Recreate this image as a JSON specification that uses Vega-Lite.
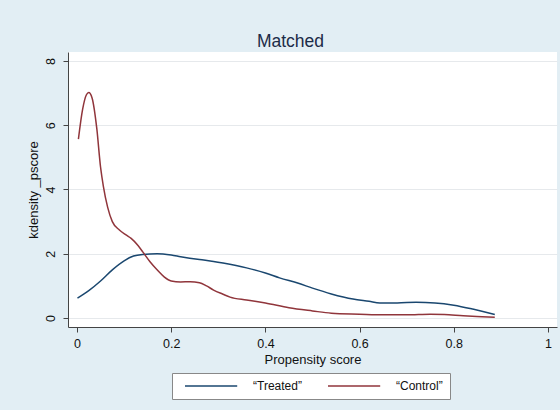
{
  "$schema": "https://vega.github.io/schema/vega-lite/v6.json",
  "autosize": {"type": "none"},
  "padding": {"left": 68, "top": 52, "right": 3, "bottom": 83},
  "width": 489,
  "height": 275,
  "background": "#e2eef4",
  "title": {"text": "Matched", "fontSize": 17.5, "font": "Liberation Sans", "fontWeight": "normal", "color": "#1c2b48", "anchor": "middle", "dx": -22, "offset": 2},
  "config": {
    "view": {"fill": "white", "stroke": null},
    "font": "Liberation Sans",
    "axis": {"domainColor": "#444444", "tickColor": "#444444", "labelColor": "#111111", "titleColor": "#111111", "labelFontSize": 12.5, "titleFontSize": 13, "titleFontWeight": "normal", "tickSize": 5, "labelFont": "Liberation Sans", "titleFont": "Liberation Sans"}
  },
  "data": {"values": [
    {"g": "“Treated”", "x": 0.001, "y": 0.62},
    {"g": "“Treated”", "x": 0.025, "y": 0.85},
    {"g": "“Treated”", "x": 0.05, "y": 1.15},
    {"g": "“Treated”", "x": 0.075, "y": 1.5},
    {"g": "“Treated”", "x": 0.1, "y": 1.78},
    {"g": "“Treated”", "x": 0.12, "y": 1.93},
    {"g": "“Treated”", "x": 0.14, "y": 1.98},
    {"g": "“Treated”", "x": 0.17, "y": 2.0},
    {"g": "“Treated”", "x": 0.2, "y": 1.96},
    {"g": "“Treated”", "x": 0.22, "y": 1.91},
    {"g": "“Treated”", "x": 0.26, "y": 1.82},
    {"g": "“Treated”", "x": 0.29, "y": 1.76},
    {"g": "“Treated”", "x": 0.31, "y": 1.71},
    {"g": "“Treated”", "x": 0.36, "y": 1.56},
    {"g": "“Treated”", "x": 0.4, "y": 1.4},
    {"g": "“Treated”", "x": 0.43, "y": 1.25},
    {"g": "“Treated”", "x": 0.47, "y": 1.08},
    {"g": "“Treated”", "x": 0.5, "y": 0.93},
    {"g": "“Treated”", "x": 0.54, "y": 0.75},
    {"g": "“Treated”", "x": 0.586, "y": 0.59},
    {"g": "“Treated”", "x": 0.62, "y": 0.52},
    {"g": "“Treated”", "x": 0.643, "y": 0.47},
    {"g": "“Treated”", "x": 0.68, "y": 0.47},
    {"g": "“Treated”", "x": 0.72, "y": 0.49},
    {"g": "“Treated”", "x": 0.76, "y": 0.47},
    {"g": "“Treated”", "x": 0.8, "y": 0.4},
    {"g": "“Treated”", "x": 0.84, "y": 0.28},
    {"g": "“Treated”", "x": 0.887, "y": 0.11},
    {"g": "“Control”", "x": 0.003, "y": 5.57},
    {"g": "“Control”", "x": 0.012, "y": 6.5},
    {"g": "“Control”", "x": 0.02, "y": 6.95},
    {"g": "“Control”", "x": 0.025, "y": 7.02},
    {"g": "“Control”", "x": 0.032, "y": 6.85},
    {"g": "“Control”", "x": 0.042, "y": 5.9},
    {"g": "“Control”", "x": 0.05, "y": 4.7},
    {"g": "“Control”", "x": 0.056, "y": 4.1},
    {"g": "“Control”", "x": 0.065, "y": 3.45},
    {"g": "“Control”", "x": 0.075, "y": 3.0},
    {"g": "“Control”", "x": 0.09, "y": 2.74},
    {"g": "“Control”", "x": 0.105, "y": 2.58},
    {"g": "“Control”", "x": 0.115, "y": 2.48},
    {"g": "“Control”", "x": 0.13, "y": 2.25},
    {"g": "“Control”", "x": 0.14, "y": 2.05},
    {"g": "“Control”", "x": 0.155, "y": 1.75},
    {"g": "“Control”", "x": 0.17, "y": 1.5},
    {"g": "“Control”", "x": 0.185, "y": 1.28},
    {"g": "“Control”", "x": 0.2, "y": 1.15},
    {"g": "“Control”", "x": 0.22, "y": 1.12},
    {"g": "“Control”", "x": 0.24, "y": 1.13},
    {"g": "“Control”", "x": 0.26, "y": 1.1},
    {"g": "“Control”", "x": 0.275, "y": 1.0},
    {"g": "“Control”", "x": 0.29, "y": 0.87},
    {"g": "“Control”", "x": 0.31, "y": 0.74},
    {"g": "“Control”", "x": 0.325, "y": 0.65},
    {"g": "“Control”", "x": 0.36, "y": 0.56},
    {"g": "“Control”", "x": 0.4, "y": 0.47},
    {"g": "“Control”", "x": 0.45, "y": 0.32},
    {"g": "“Control”", "x": 0.5, "y": 0.22},
    {"g": "“Control”", "x": 0.54, "y": 0.15},
    {"g": "“Control”", "x": 0.6, "y": 0.12},
    {"g": "“Control”", "x": 0.65, "y": 0.1},
    {"g": "“Control”", "x": 0.7, "y": 0.1},
    {"g": "“Control”", "x": 0.75, "y": 0.12},
    {"g": "“Control”", "x": 0.78, "y": 0.11},
    {"g": "“Control”", "x": 0.82, "y": 0.07},
    {"g": "“Control”", "x": 0.86, "y": 0.04},
    {"g": "“Control”", "x": 0.887, "y": 0.02}
  ]},
  "mark": {"type": "line", "strokeWidth": 1.5, "interpolate": "monotone"},
  "encoding": {
    "x": {"field": "x", "type": "quantitative", "title": "Propensity score",
      "scale": {"domain": [-0.0191, 1.0191], "nice": false, "zero": false},
      "axis": {"values": [0, 0.2, 0.4, 0.6, 0.8, 1], "format": "~g", "grid": false, "labelPadding": 5, "titlePadding": 4, "labelFlush": false}},
    "y": {"field": "y", "type": "quantitative", "title": "kdensity _pscore",
      "scale": {"domain": [-0.28, 8.28], "nice": false, "zero": false},
      "axis": {"values": [0, 2, 4, 6, 8], "grid": true, "gridColor": "#e6e9ec", "labelAngle": -90, "labelAlign": "center", "labelBaseline": "bottom", "labelPadding": 6, "titlePadding": 4, "labelFlush": false}},
    "color": {"field": "g", "type": "nominal", "sort": ["“Treated”", "“Control”"],
      "scale": {"domain": ["“Treated”", "“Control”"], "range": ["#1a476f", "#90353b"]},
      "legend": {"title": null, "orient": "none", "direction": "horizontal", "legendX": 104, "legendY": 321,
        "symbolType": "M0,0H17.4", "symbolSize": 36, "symbolStrokeWidth": 1.5, "labelFontSize": 12, "labelColor": "#111111", "labelOffset": 62,
        "columnPadding": 20, "padding": 7, "fillColor": "white", "strokeColor": "#888888", "labelFont": "Liberation Sans"}}
  }
}
